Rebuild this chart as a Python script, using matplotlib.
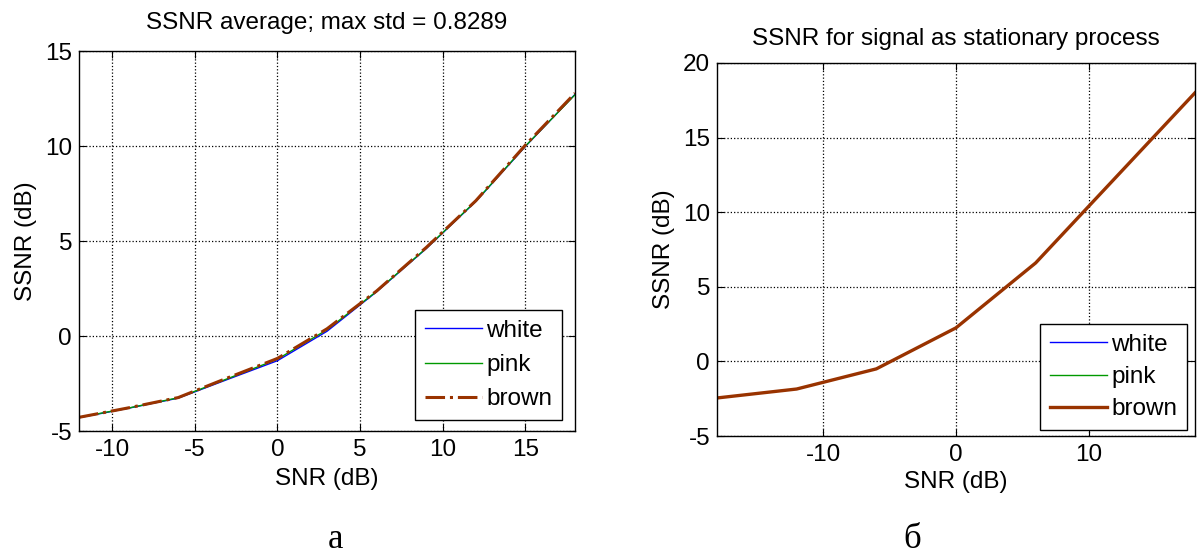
import numpy as np
import matplotlib
matplotlib.use("Agg")
import matplotlib.pyplot as plt

plt.rcParams['font.family'] = ['Liberation Sans', 'DejaVu Sans']
plt.rcParams['axes.unicode_minus'] = False

# left panel (a): SSNR average
snr_a = [-12, -9, -6, -3, 0, 3, 6, 9, 12, 15, 18]
white_a = [-4.30, -3.80, -3.27, -2.28, -1.30, 0.25, 2.33, 4.60, 7.08, 9.98, 12.72]
pink_a = [-4.28, -3.79, -3.25, -2.24, -1.22, 0.33, 2.35, 4.62, 7.10, 10.00, 12.70]
brown_a = [-4.28, -3.78, -3.24, -2.20, -1.18, 0.38, 2.37, 4.66, 7.12, 10.05, 12.78]

# right panel (б): signal as stationary process
snr_b = [-18, -12, -6, 0, 6, 12, 18]
white_b = [-2.45, -1.85, -0.50, 2.25, 6.60, 12.30, 18.00]
pink_b = [-2.45, -1.85, -0.50, 2.25, 6.60, 12.30, 18.00]
brown_b = [-2.45, -1.85, -0.50, 2.25, 6.60, 12.30, 18.00]

labels = ["white", "pink", "brown"]
c_white = (0, 0, 1)
c_pink = (0, 0.6, 0)
c_brown = (0.6, 0.2, 0)

FS = 17.5

fig = plt.figure(figsize=(11.97, 5.57), dpi=100)
ax1 = fig.add_axes([0.066, 0.2262, 0.4144, 0.6822])
ax2 = fig.add_axes([0.599, 0.2172, 0.3993, 0.6697])

ax1.plot(snr_a, white_a, color=c_white, lw=1.0, label=labels[0])
ax1.plot(snr_a, pink_a, color=c_pink, lw=1.0, label=labels[1])
ax1.plot(snr_a, brown_a, color=c_brown, lw=2.2, ls="-.", label=labels[2])
ax1.set_xlim(-12, 18)
ax1.set_ylim(-5, 15)
ax1.set_xticks([-10, -5, 0, 5, 10, 15])
ax1.set_yticks([-5, 0, 5, 10, 15])
ax1.set_title("SSNR average; max std = 0.8289", fontsize=FS, pad=16)

ax2.plot(snr_b, white_b, color=c_white, lw=1.0, label=labels[0])
ax2.plot(snr_b, pink_b, color=c_pink, lw=1.0, label=labels[1])
ax2.plot(snr_b, brown_b, color=c_brown, lw=2.4, label=labels[2])
ax2.set_xlim(-18, 18)
ax2.set_ylim(-5, 20)
ax2.set_xticks([-10, 0, 10])
ax2.set_yticks([-5, 0, 5, 10, 15, 20])
ax2.set_title("SSNR for signal as stationary process", fontsize=FS, pad=13)

# legend anchors (axes fraction)
anchors = [(0.974, 0.029), (0.983, 0.016)]
spacing = [0.5, 0.42]
xpads = [5, 3]

for ax, anc, sp, xp in zip((ax1, ax2), anchors, spacing, xpads):
    ax.grid(True, ls=":", color="black", lw=0.9)
    ax.tick_params(direction="in", top=True, right=True, labelsize=FS, length=5)
    ax.tick_params(axis="x", pad=6)
    ax.tick_params(axis="y", pad=5)
    ax.set_xlabel("SNR (dB)", fontsize=FS, labelpad=xp)
    ax.set_ylabel("SSNR (dB)", fontsize=FS, labelpad=6)
    for s in ax.spines.values():
        s.set_linewidth(1.0)
    leg = ax.legend(loc="lower right", bbox_to_anchor=anc, fontsize=FS, fancybox=False,
                    framealpha=1, edgecolor="black", handlelength=2.35, handletextpad=0.17,
                    labelspacing=sp, borderpad=0.4, borderaxespad=0)
    leg.get_frame().set_linewidth(1.0)

fig.text(0.2799, 0.016, "а", fontsize=25, family="Liberation Serif", ha="center", va="baseline")
fig.text(0.7619, 0.016, "б", fontsize=25, family="Liberation Serif", ha="center", va="baseline")

plt.savefig("out.png", dpi=100)
